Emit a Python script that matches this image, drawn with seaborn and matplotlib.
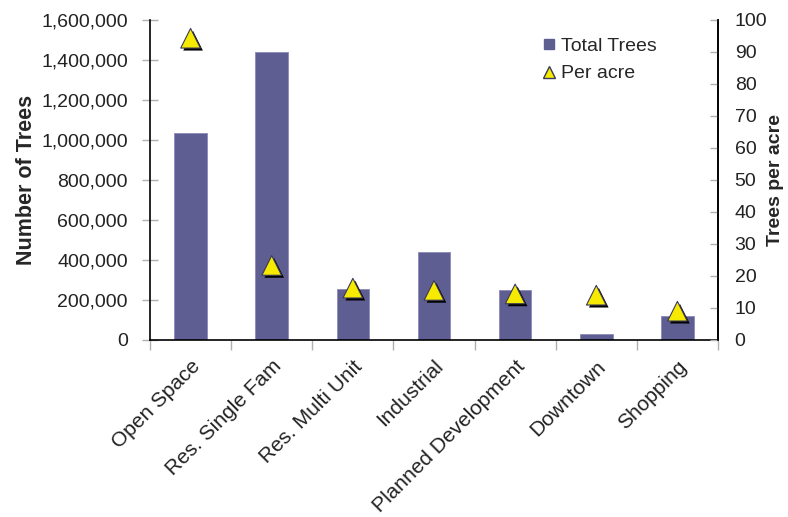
import matplotlib
matplotlib.use("Agg")
import matplotlib.pyplot as plt
import matplotlib.patheffects as pe
from matplotlib.ticker import FuncFormatter, FixedLocator
from matplotlib.lines import Line2D
import seaborn as sns
import pandas as pd

categories = ["Open Space", "Res. Single Fam", "Res. Multi Unit", "Industrial",
              "Planned Development", "Downtown", "Shopping"]
total_trees = [1035000, 1438000, 253000, 442000, 248000, 28000, 120000]
per_acre = [94.3, 23.3, 16.2, 15.5, 14.4, 14.0, 9.0]

sns.set_theme(style="white")
plt.rcParams['font.family'] = ['Liberation Sans', 'DejaVu Sans']

df = pd.DataFrame({"cat": categories, "total": total_trees, "acre": per_acre})

fig = plt.figure(figsize=(7.88, 5.17), dpi=100)
ax = fig.add_axes([150/788, 1-340/517, 568/788, 320/517])
bar_color = "#5e5e93"
sns.barplot(data=df, x="cat", y="total", color=bar_color, width=0.4,
            saturation=1, ax=ax, edgecolor="#8a8ab8", linewidth=0.6)
ax.set_xlim(-0.5, 6.5)
ax.set_ylim(0, 1600000)
ax.yaxis.set_major_locator(FixedLocator(range(0, 1600001, 200000)))
ax.yaxis.set_major_formatter(FuncFormatter(lambda v, p: f"{int(v):,}"))
ax.tick_params(axis='y', which='major', direction='inout', length=12, width=1,
               color='#b0b0b0', labelsize=14, labelcolor='#222222', pad=10,
               left=True)
ax.set_ylabel("Number of Trees", fontsize=15.5, fontweight='bold', labelpad=3)
ax.set_xlabel("")
ax.set_xticks(range(len(categories)))
ax.set_xticklabels(categories, rotation=45, ha='right', rotation_mode='anchor',
                   fontsize=15, color='#222222')
ax.tick_params(axis='x', which='major', length=0, pad=12)
ax.set_xticks([i - 0.5 for i in range(len(categories) + 1)], minor=True)
ax.tick_params(axis='x', which='minor', direction='out', length=7, width=1,
               color='#b0b0b0', bottom=True)
for s in ["left", "bottom", "right"]:
    ax.spines[s].set_visible(True)
    ax.spines[s].set_color('black')
    ax.spines[s].set_linewidth(1.2)
ax.spines["top"].set_visible(False)

ax2 = ax.twinx()
sns.scatterplot(data=df, x="cat", y="acre", marker="^", s=200, color="#f5ea00",
                edgecolor="#3a3a5a", linewidth=0.8, ax=ax2, zorder=5,
                path_effects=[pe.SimplePatchShadow(offset=(1.8, -1.8), shadow_rgbFace='black', alpha=1.0),
                              pe.Normal()])
ax2.set_ylim(0, 100)
ax2.set_xlim(-0.5, 6.5)
ax2.yaxis.set_major_locator(FixedLocator(range(0, 101, 10)))
ax2.tick_params(axis='y', direction='in', length=6, width=1, color='#b0b0b0',
                labelsize=14, labelcolor='#222222', pad=12, right=True)
ax2.set_ylabel("Trees per acre", fontsize=14, fontweight='bold', labelpad=0)
for s in ["top", "left", "bottom"]:
    ax2.spines[s].set_visible(False)
ax2.spines["right"].set_visible(True)
ax2.spines["right"].set_color('black')
ax2.spines["right"].set_linewidth(1.2)

handles = [
    Line2D([0], [0], marker='s', linestyle='none', markersize=7,
           markerfacecolor=bar_color, markeredgecolor=bar_color),
    Line2D([0], [0], marker='^', linestyle='none', markersize=9,
           markerfacecolor="#f5ea00", markeredgecolor="#3a3a5a"),
]
ax2.legend(handles, ["Total Trees", "Per acre"], loc='upper left',
           bbox_to_anchor=(0.655, 1.0), frameon=False, fontsize=14,
           handletextpad=0.1, labelspacing=0.5, handlelength=1.0)

fig.savefig("out.png", dpi=100)
